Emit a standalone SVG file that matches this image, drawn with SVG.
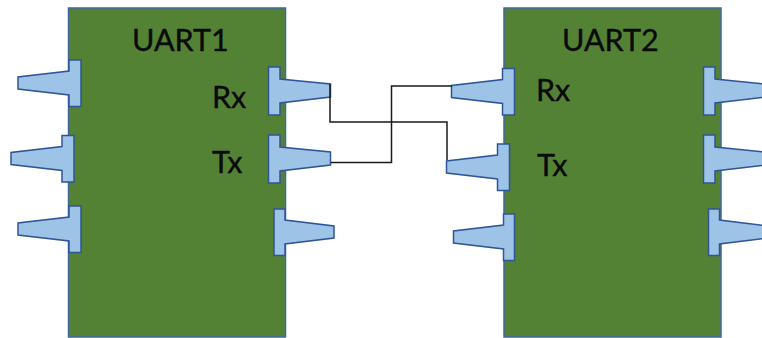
<svg xmlns="http://www.w3.org/2000/svg" width="762" height="338" viewBox="0 0 762 338">
<style>
.chip{fill:#548235;stroke:#3e6a9c;stroke-width:1.5}
.pin{fill:#9dc3e6;stroke:#2f5597;stroke-width:1.5;stroke-linejoin:miter}
.wire{fill:none;stroke:#1a1a1a;stroke-width:1.5}
text{font-family:"Lato","Liberation Sans",sans-serif;font-size:30.500px;fill:#0a0a0a;stroke:#0a0a0a;stroke-width:.4}
</style>
<defs>
<polygon id="pinL" class="pin" points="0,0 -12,0 -12,11 -63,17 -63,29 -12,35 -12,46.500 0,46.500"/>
<polygon id="pinLs" class="pin" points="0,0 -11,0 -11,11 -61,17 -61,29 -11,35 -11,46.500 0,46.500"/>
<polygon id="pinR" class="pin" points="0,0 11.500,0 11.500,12 62,17 62,30 11.500,36 11.500,48 0,48"/>
<polygon id="pinRs" class="pin" points="0,0 11,0 11,11 60,17 60,29 11,35 11,46.500 0,46.500"/>
</defs>
<rect width="762" height="338" fill="#fff"/>
<g id="uart1">
<rect class="chip" x="68.500" y="8" width="217" height="329"/>
<text x="132" y="51">UART1</text>
<use href="#pinL" x="81" y="60"/>
<use href="#pinL" x="74" y="135.500"/>
<use href="#pinL" x="81" y="206"/>
<use href="#pinR" x="268.500" y="67"/>
<use href="#pinR" x="268.500" y="135"/>
<use href="#pinRs" x="274" y="209"/>
<text x="212" y="108">Rx</text>
<text x="212" y="173">Tx</text>
</g>
<g id="uart2">
<rect class="chip" x="504" y="8" width="217" height="329"/>
<text x="562" y="51">UART2</text>
<use href="#pinL" x="514.500" y="68.500"/>
<use href="#pinL" x="509.500" y="144"/>
<use href="#pinLs" x="514.500" y="214"/>
<use href="#pinR" x="703.500" y="67"/>
<use href="#pinR" x="703.500" y="135"/>
<use href="#pinRs" x="708.500" y="209"/>
<text x="536" y="101">Rx</text>
<text x="537" y="176">Tx</text>
</g>
<g id="connectors">
<path class="wire" d="M330 84V122H447V160"/>
<path class="wire" d="M331 162.500H391.500V86H452"/>
</g>
</svg>
